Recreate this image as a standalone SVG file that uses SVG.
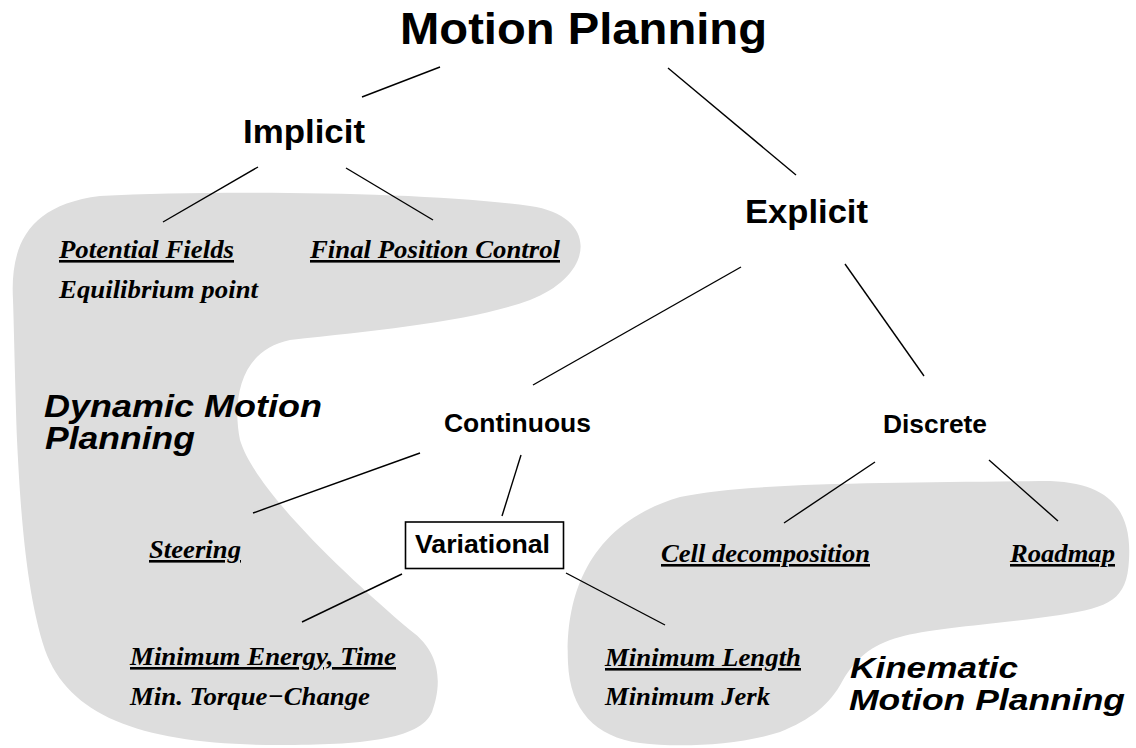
<svg xmlns="http://www.w3.org/2000/svg" width="1136" height="748" viewBox="0 0 1136 748">
<style>
.bg{fill:#dddddd;stroke:none}
.ln{stroke:#000;stroke-width:1.4;fill:none}
.sans{font-family:"Liberation Sans",Arial,Helvetica,sans-serif;font-weight:bold;fill:#000}
.lab{font-family:"Liberation Sans",Arial,Helvetica,sans-serif;font-weight:bold;font-style:italic;fill:#000}
.ser{font-family:"Liberation Serif","Times New Roman",serif;font-weight:bold;font-style:italic;font-size:26px;fill:#000}
.u{text-decoration:underline}
.box{fill:#fff;stroke:#000;stroke-width:1.6}
</style>
<rect width="1136" height="748" fill="#fff"/>
<g id="regions">
<path id="dynamic-region" class="bg" d="M 13,300 C 10,245 28,205 100,196 C 220,190 430,192 530,206 C 600,216 595,275 530,300 C 470,322 380,330 290,340 C 240,350 232,400 240,440 C 255,490 345,575 410,630 C 445,655 440,690 432,712 C 420,740 360,745 280,745 C 150,745 70,720 45,650 C 25,590 20,500 17,440 C 15,380 14,330 13,300 Z"/>
<path id="kinematic-region" class="bg" d="M 568,663 C 565,600 585,525 680,497 C 750,482 900,483 1040,481 C 1110,480 1132,510 1129,560 C 1127,600 1110,607 1060,615 C 1000,624 930,628 900,637 C 870,645 855,660 843,680 C 830,705 810,720 780,732 C 740,745 680,748 640,743 C 595,737 570,710 568,663 Z"/>
</g>
<g id="connectors">
<line class="ln" x1="440" y1="67" x2="362" y2="97"/>
<line class="ln" x1="668" y1="68" x2="796" y2="175"/>
<line class="ln" x1="258" y1="167" x2="163" y2="222"/>
<line class="ln" x1="346" y1="168" x2="433" y2="220"/>
<line class="ln" x1="741" y1="267" x2="533" y2="385"/>
<line class="ln" x1="845" y1="264" x2="924" y2="376"/>
<line class="ln" x1="420" y1="453" x2="253" y2="513"/>
<line class="ln" x1="521" y1="455" x2="502" y2="516"/>
<line class="ln" x1="875" y1="462" x2="784" y2="523"/>
<line class="ln" x1="989" y1="460" x2="1058" y2="521"/>
<line class="ln" x1="402" y1="574" x2="302" y2="622"/>
<line class="ln" x1="566" y1="573" x2="665" y2="625"/>
</g>
<g id="motion-planning"><text class="sans" x="400" y="44" font-size="44" textLength="367" lengthAdjust="spacingAndGlyphs">Motion Planning</text></g>
<g id="implicit"><text class="sans" x="243" y="143" font-size="34" textLength="122" lengthAdjust="spacingAndGlyphs">Implicit</text></g>
<g id="explicit"><text class="sans" x="745" y="223" font-size="34" textLength="123" lengthAdjust="spacingAndGlyphs">Explicit</text></g>
<g id="continuous"><text class="sans" x="444" y="432" font-size="26" textLength="147" lengthAdjust="spacingAndGlyphs">Continuous</text></g>
<g id="discrete"><text class="sans" x="883" y="433" font-size="26" textLength="104" lengthAdjust="spacingAndGlyphs">Discrete</text></g>
<g id="variational"><rect class="box" x="405.5" y="522" width="158" height="46.5"/><text class="sans" x="415" y="553" font-size="26" textLength="135" lengthAdjust="spacingAndGlyphs">Variational</text></g>
<g id="potential-fields"><text class="ser u" x="59" y="258" textLength="175" lengthAdjust="spacingAndGlyphs">Potential Fields</text><text class="ser" x="59" y="298" textLength="199" lengthAdjust="spacingAndGlyphs">Equilibrium point</text></g>
<g id="final-position-control"><text class="ser u" x="310" y="258" textLength="250" lengthAdjust="spacingAndGlyphs">Final Position Control</text></g>
<g id="steering"><text class="ser u" x="149" y="558" textLength="92" lengthAdjust="spacingAndGlyphs">Steering</text></g>
<g id="minimum-energy"><text class="ser u" x="130" y="665" textLength="266" lengthAdjust="spacingAndGlyphs">Minimum Energy, Time</text><text class="ser" x="130" y="705" textLength="240" lengthAdjust="spacingAndGlyphs">Min. Torque−Change</text></g>
<g id="minimum-length"><text class="ser u" x="605" y="666" textLength="196" lengthAdjust="spacingAndGlyphs">Minimum Length</text><text class="ser" x="605" y="705" textLength="165" lengthAdjust="spacingAndGlyphs">Minimum Jerk</text></g>
<g id="cell-decomposition"><text class="ser u" x="661" y="562" textLength="209" lengthAdjust="spacingAndGlyphs">Cell decomposition</text></g>
<g id="roadmap"><text class="ser u" x="1010" y="562" textLength="105" lengthAdjust="spacingAndGlyphs">Roadmap</text></g>
<g id="dynamic-label"><text class="lab" font-size="32"><tspan x="44" y="417" textLength="278" lengthAdjust="spacingAndGlyphs">Dynamic Motion</tspan><tspan x="45" y="449" textLength="150" lengthAdjust="spacingAndGlyphs">Planning</tspan></text></g>
<g id="kinematic-label"><text class="lab" font-size="30"><tspan x="850" y="678" textLength="168" lengthAdjust="spacingAndGlyphs">Kinematic</tspan><tspan x="849" y="710" textLength="276" lengthAdjust="spacingAndGlyphs">Motion Planning</tspan></text></g>
</svg>
